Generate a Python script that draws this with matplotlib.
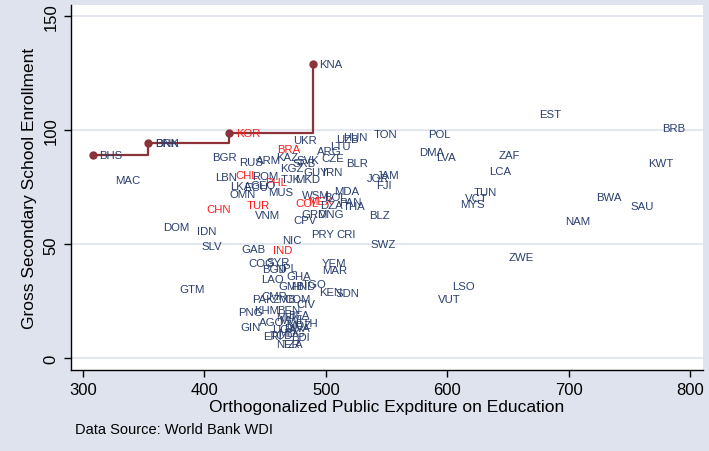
import matplotlib
matplotlib.use('Agg')
import matplotlib.pyplot as plt

# ---- data ----
codes = ['BHS', 'BRN', 'DNK', 'KOR', 'KNA',
         'UKR', 'UZB', 'HUN', 'TON', 'POL', 'EST', 'BRB', 'LTU', 'ARG', 'BRA',
         'BGR', 'RUS', 'ARM', 'KAZ', 'SVK', 'SRB', 'CZE', 'BLR', 'KGZ', 'GUY',
         'IRN', 'JOR', 'JAM', 'FJI', 'CHL', 'LBN', 'ROM', 'PHL', 'TJK', 'MKD',
         'LKA', 'ECU', 'GEO', 'OMN', 'MUS', 'WSM', 'MDA', 'COL', 'MEX', 'BOL',
         'DZA', 'PAN', 'THA', 'TUR', 'CHN', 'VNM', 'GRD', 'MNG', 'CPV', 'BLZ',
         'MAC', 'TUN', 'VCT', 'MYS', 'DMA', 'LVA', 'ZAF', 'LCA', 'KWT', 'BWA',
         'SAU', 'NAM', 'ZWE', 'LSO', 'VUT', 'DOM', 'IDN', 'SLV', 'NIC', 'PRY',
         'CRI', 'SWZ', 'GAB', 'IND', 'COG', 'SYR', 'BGD', 'NPL', 'YEM', 'MAR',
         'LAO', 'GHA', 'GMB', 'HND', 'TGO', 'KEN', 'SDN', 'GTM', 'CMR', 'PAK',
         'ZMB', 'COM', 'CIV', 'KHM', 'PNG', 'BEN', 'GIN', 'AGO', 'ETH', 'BDI',
         'NER', 'TZA', 'MLI', 'MWI', 'UGA', 'TCD', 'ERI', 'RWA', 'BFA', 'MOZ',
         'MDG']
expenditure = [308.0, 353.8, 354.2, 420.5, 489.2,
               467.9, 503.5, 508.8, 533.8, 579.1, 670.5, 771.3, 498.1, 487.1, 454.7,
               400.7, 423.4, 437.1, 453.6, 470.1, 466.8, 491.3, 511.3, 456.9, 476.1,
               492.3, 528.3, 536.6, 536.0, 420.4, 403.4, 433.9, 444.6, 457.7, 469.3,
               415.7, 427.3, 432.2, 414.9, 446.8, 475.3, 501.6, 469.3, 480.2, 493.2,
               489.9, 505.8, 508.8, 429.5, 396.5, 436.3, 474.8, 487.4, 467.9, 530.5,
               321.0, 616.1, 609.3, 605.2, 571.4, 585.4, 637.3, 629.3, 760.3, 717.0,
               745.8, 691.7, 645.0, 598.8, 587.3, 360.8, 388.8, 392.4, 458.3, 482.5,
               503.6, 531.1, 425.4, 451.4, 430.6, 446.0, 441.8, 452.8, 491.3, 491.3,
               441.0, 462.4, 455.5, 466.0, 475.0, 489.0, 502.2, 374.0, 441.8, 433.6,
               451.2, 460.2, 470.1, 435.7, 422.6, 454.7, 424.5, 439.9, 469.3, 466.0,
               453.6, 458.0, 453.6, 456.1, 450.3, 448.7, 443.0, 460.2, 463.5, 461.9,
               455.3]
enrollment = [89.2, 94.6, 94.6, 98.7, 129.0,
              95.8, 96.2, 97.3, 98.4, 98.4, 107.2, 101.1, 93.1, 91.0, 91.9,
              88.2, 86.3, 87.0, 88.3, 87.2, 85.5, 87.8, 85.7, 83.3, 81.6,
              81.6, 79.0, 80.5, 76.0, 80.5, 79.5, 80.0, 77.5, 78.5, 78.7,
              75.7, 75.2, 76.0, 72.1, 72.8, 71.6, 73.5, 68.2, 69.2, 71.0,
              67.4, 68.5, 67.0, 67.3, 65.5, 62.9, 63.3, 63.3, 60.7, 63.0,
              78.3, 72.8, 70.2, 67.6, 90.7, 88.2, 89.4, 82.0, 85.7, 70.6,
              66.7, 60.1, 44.4, 31.6, 26.0, 57.5, 55.8, 49.1, 51.9, 54.7,
              54.7, 50.1, 47.9, 47.5, 41.7, 42.1, 39.4, 39.8, 41.7, 38.9,
              34.8, 36.2, 31.9, 31.8, 32.6, 29.2, 28.7, 30.4, 27.5, 26.0,
              26.0, 26.0, 23.8, 21.2, 20.2, 21.4, 13.6, 15.8, 15.5, 9.3,
              6.3, 6.4, 18.1, 16.8, 12.8, 10.2, 9.7, 13.3, 19.2, 14.7,
              11.1]
highlighted = ['KOR', 'BRA', 'CHL', 'PHL', 'COL', 'MEX', 'TUR', 'CHN', 'IND']
frontier = ['BHS', 'BRN', 'KOR', 'KNA']

x_ticks = [300, 400, 500, 600, 700, 800]
y_ticks = [0, 50, 100, 150]
x_title = 'Orthogonalized Public Expditure on Education'
y_title = 'Gross Secondary School Enrollment'
note = 'Data Source: World Bank WDI'

# ---- style ----
BG = '#dfe3ee'
NAVY = '#2a3f6e'
RED = '#ff1a1a'
MAROON = '#8c3239'
GRID = '#dde3ee'
AX_FONT = ['Liberation Sans', 'DejaVu Sans']
LAB_FONT = ['Liberation Sans', 'DejaVu Sans']

W, H = 709, 452
fig = plt.figure(figsize=(W / 100, H / 100), dpi=100, facecolor=BG)
ax = fig.add_axes([71 / W, (H - 371) / H, 632 / W, 365 / H])
ax.set_facecolor('white')
ax.set_xlim(290.1, 810.7)
ax.set_ylim(-5.1, 155.0)

for yt in y_ticks:
    ax.axhline(yt, color=GRID, lw=1.2, zorder=0)

# frontier
lookup = {c: (x, y) for c, x, y in zip(codes, expenditure, enrollment)}
fx = [lookup[c][0] for c in frontier]
fy = [lookup[c][1] for c in frontier]
ax.plot(fx, fy, drawstyle='steps-post', color=MAROON, lw=1.6, zorder=3)
ax.plot(fx, fy, 'o', color=MAROON, ms=5, zorder=4)

for c, x, y in zip(codes, expenditure, enrollment):
    col = RED if c in highlighted else NAVY
    ax.annotate(c, (x, y), xytext=(4.7, 0), textcoords='offset points',
                ha='left', va='center', fontsize=8.2, color=col,
                family=LAB_FONT, zorder=5, annotation_clip=False)

for s in ['top', 'right']:
    ax.spines[s].set_visible(False)
for s in ['left', 'bottom']:
    ax.spines[s].set_color('black')
    ax.spines[s].set_linewidth(1.0)

ax.set_xticks(x_ticks)
ax.set_yticks(y_ticks)
ax.set_xticklabels([str(v) for v in x_ticks], family=AX_FONT, fontsize=12)
ax.set_yticklabels([str(v) for v in y_ticks], family=AX_FONT, fontsize=12,
                   rotation=90, va='center')
ax.tick_params(axis='both', direction='out', length=5, width=1, color='black')
ax.tick_params(axis='x', pad=4)
ax.tick_params(axis='y', pad=4)

ax.set_xlabel(x_title, family=AX_FONT, fontsize=12.5, labelpad=1)
ax.set_ylabel(y_title, family=AX_FONT, fontsize=12.5, labelpad=5)

fig.text(75 / W, 1 - 430 / H, note, family=AX_FONT, fontsize=10.5,
         ha='left', va='center')

fig.savefig('out.png', dpi=100, facecolor=BG)
